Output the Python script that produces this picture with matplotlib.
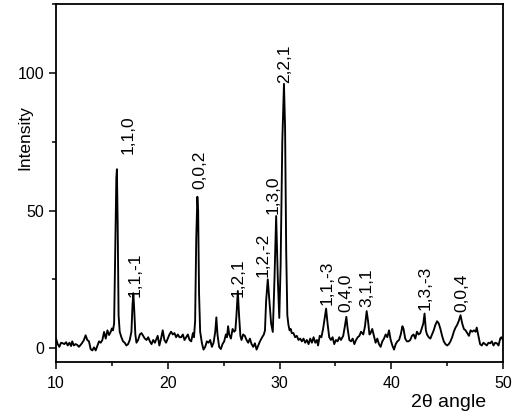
import matplotlib
matplotlib.use("Agg")
import matplotlib.pyplot as plt
from matplotlib.ticker import MultipleLocator

plt.rcParams['font.family'] = ['Liberation Sans', 'DejaVu Sans']

two_theta = [
    10.0, 10.15, 10.3, 10.45, 10.6, 10.75, 10.9, 11.05, 11.2, 11.35, 11.45, 11.6, 11.75, 11.9,
    12.05, 12.2, 12.35, 12.5, 12.65, 12.8, 12.95, 13.1, 13.25, 13.4, 13.55, 13.7, 13.85, 14.0,
    14.15, 14.3, 14.45, 14.6, 14.75, 14.9, 15.0, 15.1, 15.2, 15.3, 15.4, 15.45, 15.52, 15.6,
    15.7, 15.85, 16.0, 16.15, 16.3, 16.45, 16.6, 16.75, 16.85, 16.92, 17.0, 17.1, 17.2, 17.35,
    17.5, 17.65, 17.8, 17.95, 18.1, 18.25, 18.4, 18.55, 18.7, 18.85, 19.0, 19.1, 19.25, 19.4,
    19.55, 19.7, 19.85, 20.0, 20.15, 20.3, 20.45, 20.6, 20.75, 20.9, 21.05, 21.2, 21.35, 21.5,
    21.65, 21.8, 21.95, 22.1, 22.25, 22.35, 22.45, 22.55, 22.65, 22.72, 22.8, 22.9, 23.05, 23.2,
    23.35, 23.5, 23.65, 23.8, 23.95, 24.1, 24.25, 24.35, 24.45, 24.6, 24.75, 24.9, 25.05, 25.2,
    25.3, 25.4, 25.5, 25.65, 25.8, 25.95, 26.05, 26.15, 26.27, 26.38, 26.5, 26.6, 26.75, 26.9,
    27.05, 27.2, 27.35, 27.5, 27.65, 27.8, 27.95, 28.1, 28.25, 28.45, 28.6, 28.7, 28.8, 28.95,
    29.1, 29.25, 29.4, 29.55, 29.7, 29.85, 29.98, 30.1, 30.25, 30.4, 30.5, 30.6, 30.7, 30.8,
    30.9, 31.0, 31.1, 31.25, 31.4, 31.55, 31.7, 31.85, 32.0, 32.15, 32.3, 32.45, 32.6, 32.75,
    32.9, 33.05, 33.2, 33.35, 33.45, 33.6, 33.75, 33.9, 34.05, 34.17, 34.3, 34.45, 34.6, 34.75,
    34.9, 35.05, 35.2, 35.35, 35.5, 35.7, 35.85, 35.98, 36.1, 36.25, 36.4, 36.55, 36.7, 36.85,
    37.0, 37.15, 37.3, 37.5, 37.65, 37.8, 37.92, 38.05, 38.15, 38.3, 38.45, 38.6, 38.75, 38.9,
    39.05, 39.2, 39.35, 39.5, 39.65, 39.8, 39.95, 40.1, 40.25, 40.4, 40.55, 40.7, 40.85, 41.0,
    41.1, 41.25, 41.4, 41.55, 41.7, 41.85, 42.0, 42.15, 42.3, 42.45, 42.6, 42.75, 42.87, 42.98,
    43.1, 43.2, 43.35, 43.5, 43.65, 43.8, 43.95, 44.1, 44.25, 44.4, 44.55, 44.7, 44.85, 45.0,
    45.15, 45.3, 45.45, 45.6, 45.75, 45.9, 46.05, 46.2, 46.35, 46.5, 46.65, 46.8, 46.95, 47.1,
    47.25, 47.4, 47.55, 47.65, 47.8, 47.95, 48.1, 48.25, 48.4, 48.55, 48.7, 48.85, 49.0, 49.15,
    49.3, 49.45, 49.6, 49.75, 49.85, 50.0,
]

intensity = [
    3.5, 1.5, 0.5, 2.0, 1.8, 1.5, 2.2, 1.0, 2.0, 0.8, 2.5, 1.0, 1.5, 1.2,
    0.5, 1.2, 2.0, 3.0, 4.7, 3.0, 2.5, -0.3, -0.8, 0.3, -0.8, 0.8, 2.5, 2.0,
    3.0, 5.9, 3.5, 6.5, 4.8, 6.0, 7.2, 6.5, 9.0, 35.0, 62.0, 65.0, 45.0, 12.0,
    6.0, 4.0, 2.5, 2.0, 1.0, 1.5, 3.0, 6.0, 16.0, 20.0, 14.0, 5.0, 2.0, 3.0,
    5.0, 5.5, 4.5, 3.5, 3.0, 4.0, 2.5, 1.5, 3.0, 2.0, 3.5, 4.5, 1.0, 3.5,
    6.5, 3.0, 2.0, 3.5, 5.0, 6.0, 5.0, 5.5, 4.0, 5.0, 4.0, 4.0, 5.0, 3.0,
    4.0, 5.0, 3.0, 2.5, 5.5, 4.0, 10.0, 40.0, 55.0, 50.0, 20.0, 6.0, 2.0, -0.5,
    0.5, 2.5, 2.0, 3.0, 0.5, 2.0, 6.0, 11.2, 5.0, 0.5, -0.3, 1.5, 2.5, 5.0,
    4.0, 8.0, 5.0, 3.5, 7.0, 6.0, 6.5, 12.0, 20.8, 12.0, 4.5, 3.0, 5.0, 4.5,
    3.0, 2.0, 3.5, 1.5, 0.5, 1.8, -0.5, 1.0, 2.5, 4.0, 5.0, 6.5, 17.0, 25.0,
    17.0, 9.0, 5.9, 25.0, 48.0, 25.0, 11.0, 30.0, 75.0, 96.0, 80.0, 35.0, 12.0, 8.5,
    6.5, 7.0, 5.5, 5.5, 4.0, 4.5, 3.0, 3.5, 2.5, 3.5, 2.0, 3.0, 1.5, 3.5,
    2.0, 4.0, 2.0, 3.0, 1.0, 4.5, 4.0, 7.0, 11.0, 14.4, 9.0, 4.0, 3.0, 4.0,
    1.5, 3.0, 2.5, 4.0, 3.0, 4.5, 8.0, 11.4, 7.0, 3.0, 2.5, 3.5, 1.5, 3.0,
    4.0, 4.5, 6.0, 5.0, 8.0, 13.5, 10.0, 5.0, 5.5, 7.0, 4.5, 2.0, 3.5, 1.5,
    0.5, 2.5, 3.5, 5.0, 4.0, 6.5, 3.0, 1.0, -0.5, 1.5, 2.5, 3.0, 5.0, 8.0,
    7.0, 3.5, 2.5, 2.5, 3.0, 4.5, 5.0, 3.5, 6.0, 5.0, 5.5, 7.5, 9.0, 12.6,
    6.5, 5.0, 4.0, 3.5, 5.0, 6.5, 8.5, 9.8, 9.0, 7.0, 4.5, 2.5, 1.5, 1.0,
    1.5, 2.5, 4.0, 6.0, 7.5, 8.5, 10.0, 12.0, 9.0, 7.0, 6.5, 5.5, 4.5, 6.5,
    6.0, 6.5, 6.0, 7.5, 4.5, 1.5, 1.0, 2.0, 1.5, 1.0, 2.0, 1.8, 2.5, 1.0,
    2.0, 1.8, 1.0, 3.5, 4.0, 3.0,
]

peak_labels = ["1,1,0", "1,1,-1", "0,0,2", "1,2,1", "1,2,-2", "1,3,0", "2,2,1",
               "1,1,-3", "0,4,0", "3,1,1", "1,3,-3", "0,0,4"]
label_x = [16.45, 17.07, 22.9, 26.3, 28.5, 29.4, 30.45, 34.25, 35.95, 37.8, 43.0, 46.3]
label_y = [70.7, 18.5, 58.0, 18.5, 25.8, 48.9, 96.4, 15.6, 13.0, 14.9, 13.8, 13.0]

x_ticks = [10, 20, 30, 40, 50]
y_ticks = [0, 50, 100]

fig = plt.figure(figsize=(5.2, 4.15), dpi=100)
ax = fig.add_axes([0.1077, 0.1277, 0.8596, 0.8627])

ax.plot(two_theta, intensity, color='black', lw=1.35)

for lab, lx, ly in zip(peak_labels, label_x, label_y):
    ax.text(lx, ly, lab, rotation=90, ha='center', va='bottom', fontsize=12.5)

ax.set_xlim(10, 50)
ax.set_ylim(-5, 125)
ax.set_xticks(x_ticks)
ax.set_yticks(y_ticks)
ax.xaxis.set_minor_locator(MultipleLocator(5))
ax.yaxis.set_minor_locator(MultipleLocator(25))
ax.tick_params(which='major', direction='out', length=5, width=1.1, labelsize=11.5,
               top=False, right=False)
ax.tick_params(which='minor', direction='out', length=2.8, width=1.1,
               top=False, right=False)
ax.tick_params(axis='x', pad=5)
ax.tick_params(axis='y', pad=3.5)
for s in ax.spines.values():
    s.set_linewidth(1.3)

ax.set_ylabel('Intensity', fontsize=12.5, va='center')
ax.yaxis.set_label_coords(-0.069, 0.628)
ax.set_xlabel('2θ angle', fontsize=14, va='center')
ax.xaxis.set_label_coords(0.879, -0.1145)

fig.savefig('out.png', dpi=100)
